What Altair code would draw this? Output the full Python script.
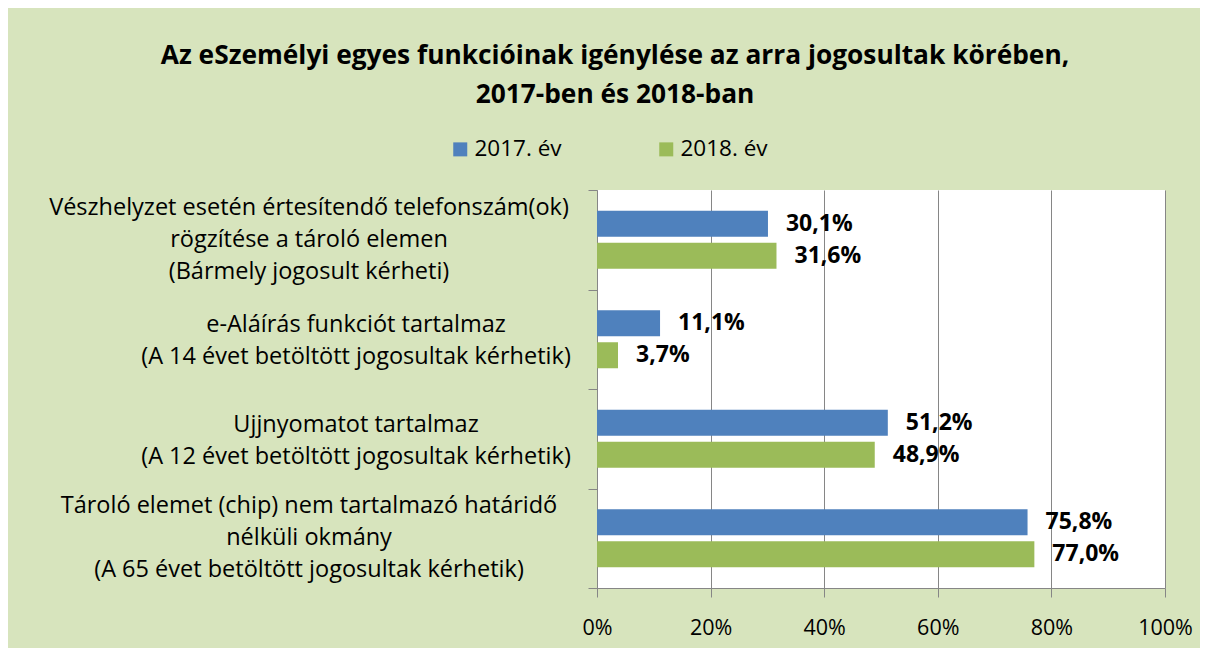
import altair as alt
import pandas as pd

categories = [
    "Vészhelyzet esetén értesítendő telefonszám(ok)|rögzítése a tároló elemen|(Bármely jogosult kérheti)",
    "e-Aláírás funkciót tartalmaz|(A 14 évet betöltött jogosultak kérhetik)",
    "Ujjnyomatot tartalmaz|(A 12 évet betöltött jogosultak kérhetik)",
    "Tároló elemet (chip) nem tartalmazó határidő|nélküli okmány|(A 65 évet betöltött jogosultak kérhetik)",
]
wide_labels = [categories[0], categories[3]]
narrow_labels = [categories[1], categories[2]]
years = ["2017. év", "2018. év"]
values_2017 = [30.1, 11.1, 51.2, 75.8]
values_2018 = [31.6, 3.7, 48.9, 77.0]
colors = ["#4F81BD", "#9BBB59"]
x_ticks = [0, 20, 40, 60, 80, 100]

rows = []
for c, a, b in zip(categories, values_2017, values_2018):
    rows.append({"cat": c, "year": years[0], "v": a})
    rows.append({"cat": c, "year": years[1], "v": b})
df = pd.DataFrame(rows)
cat_df = pd.DataFrame({"cat": categories})

FONT = "Open Sans"
LBL_SIZE = 23.5
LINE_H = 32

y_enc = alt.Y(
    "cat:N",
    sort=categories,
    title=None,
    scale=alt.Scale(paddingInner=0, paddingOuter=0),
    axis=alt.Axis(
        labels=False,
        tickBand="extent",
        tickSize=9,
        tickColor="#868686",
        domainColor="#868686",
        grid=False,
    ),
)
yoff = alt.YOffset(
    "year:N",
    sort=years,
    scale=alt.Scale(paddingInner=0.1875, paddingOuter=0.648),
)
x_enc = alt.X(
    "v:Q",
    title=None,
    scale=alt.Scale(domain=[0, 100]),
    axis=alt.Axis(
        values=x_ticks,
        labelExpr="datum.value + '%'",
        labelFontSize=21.5,
        labelFont=FONT,
        labelColor="#000000",
        labelPadding=20,
        labelFlush=False,
        tickSize=9,
        tickColor="#868686",
        domainColor="#868686",
        gridColor="#868686",
        grid=True,
    ),
)

bars = alt.Chart(df).mark_bar().encode(
    x=x_enc,
    y=y_enc,
    yOffset=yoff,
    color=alt.Color(
        "year:N",
        sort=years,
        scale=alt.Scale(domain=years, range=colors),
        legend=alt.Legend(
            title=None,
            orient="none",
            legendX=-148,
            legendY=-52,
            direction="horizontal",
            symbolType="square",
            symbolSize=196,
            symbolStrokeWidth=0,
            labelFontSize=22.5,
            labelFont=FONT,
            labelColor="#000000",
            columnPadding=93,
            labelOffset=3,
        ),
    ),
)

labels = alt.Chart(df).transform_calculate(
    lbl="replace(format(datum.v, '.1f'), '.', ',') + '%'"
).mark_text(
    align="left", baseline="middle", dx=18, fontSize=23, fontWeight="bold", font=FONT, color="#000000"
).encode(
    x="v:Q",
    y=alt.Y("cat:N", sort=categories),
    yOffset=alt.YOffset("year:N", sort=years),
    text="lbl:N",
)


def cat_labels(subset, dx, n_lines, dy_extra=0):
    return (
        alt.Chart(cat_df)
        .transform_filter(alt.FieldOneOfPredicate(field="cat", oneOf=subset))
        .transform_calculate(lines="split(datum.cat, '|')")
        .mark_text(
            align="center",
            baseline="middle",
            dx=dx,
            dy=-(n_lines - 1) * LINE_H / 2 + dy_extra,
            fontSize=LBL_SIZE,
            lineHeight=LINE_H,
            font=FONT,
            color="#000000",
        )
        .encode(
            x=alt.value(0),
            y=alt.Y("cat:N", sort=categories),
            text="lines:N",
        )
    )


chart = (
    alt.layer(bars, labels, cat_labels(wide_labels, -288, 3), cat_labels(narrow_labels, -241, 2, 2))
    .properties(
        width=568,
        height=398,
        autosize=alt.AutoSizeParams(type="none"),
        padding={"left": 589, "top": 182, "right": 35, "bottom": 60},
        title=alt.TitleParams(
            text=[
                "Az eSzemélyi egyes funkcióinak igénylése az arra jogosultak körében,",
                "2017-ben és 2018-ban",
            ],
            font=FONT,
            fontSize=26.3,
            fontWeight="bold",
            color="#000000",
            anchor="middle",
            lineHeight=39,
            dx=-266,
            offset=30,
        ),
    )
    .configure(background="#D7E4BD")
    .configure_view(fill="#FFFFFF", strokeWidth=0)
)

chart.save("out.html", embed_options={"renderer": "svg", "actions": False})
